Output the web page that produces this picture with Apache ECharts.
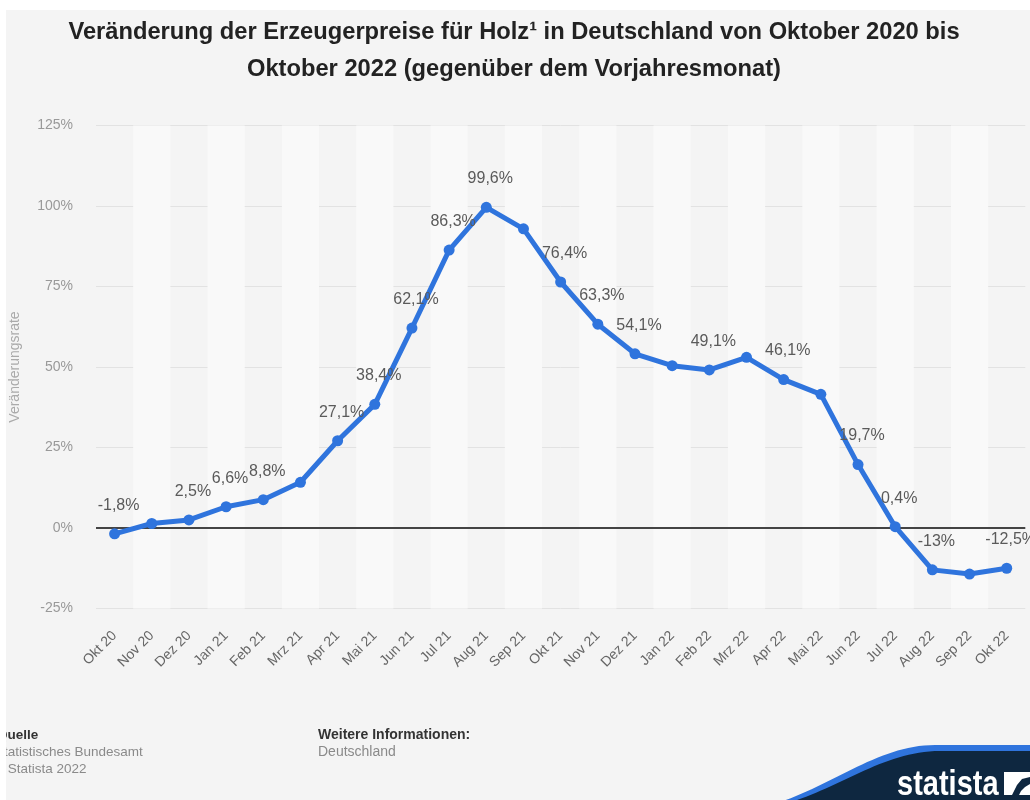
<!DOCTYPE html>
<html>
<head>
<meta charset="utf-8">
<script src="https://cdn.jsdelivr.net/npm/echarts@6/dist/echarts.min.js"></script>
<style>
html,body{margin:0;padding:0;background:#fff;}
#chart{width:1030px;height:800px;}
</style>
</head>
<body>
<div id="chart"></div>
<script>
var categories = ['Okt 20','Nov 20','Dez 20','Jan 21','Feb 21','Mrz 21','Apr 21','Mai 21','Jun 21','Jul 21','Aug 21','Sep 21','Okt 21','Nov 21','Dez 21','Jan 22','Feb 22','Mrz 22','Apr 22','Mai 22','Jun 22','Jul 22','Aug 22','Sep 22','Okt 22'];
var values = [-1.8, 1.4, 2.5, 6.6, 8.8, 14.2, 27.1, 38.4, 62.1, 86.3, 99.6, 92.9, 76.4, 63.3, 54.1, 50.4, 49.1, 53.0, 46.1, 41.5, 19.7, 0.4, -13, -14.3, -12.5];
var labeled = [true,false,true,true,true,false,true,true,true,true,true,false,true,true,true,false,true,false,true,false,true,true,true,false,true];
var yMin = -25, yMax = 125, yStep = 25;
var titleText = 'Veränderung der Erzeugerpreise für Holz¹ in Deutschland von Oktober 2020 bis\nOktober 2022 (gegenüber dem Vorjahresmonat)';
var yAxisName = 'Veränderungsrate';

var FONT = '"Liberation Sans", Arial, sans-serif';
function fmt(v){ return String(v).replace('.', ',') + '%'; }

// logo outline: cubic bezier sampled into polygon points (decoration only)
function swoosh(x0, y0, c1x, c1y, c2x, c2y, x1, y1, right, bottom){
  var pts = [];
  for (var i = 0; i <= 30; i++) {
    var t = i / 30, u = 1 - t;
    pts.push([u*u*u*x0 + 3*u*u*t*c1x + 3*u*t*t*c2x + t*t*t*x1,
              u*u*u*y0 + 3*u*u*t*c1y + 3*u*t*t*c2y + t*t*t*y1]);
  }
  pts.push([right, y1]); pts.push([right, bottom]); pts.push([x0, bottom]);
  return pts;
}

var chart = echarts.init(document.getElementById('chart'), null, {renderer:'canvas'});
var option = {
  backgroundColor: '#f4f4f4',
  animation: false,
  title: {
    text: titleText,
    left: 514,
    top: 14,
    padding: 0,
    textAlign: 'center',
    textStyle: {fontFamily: FONT, fontSize: 23.7, fontWeight: 'bold', color: '#222', lineHeight: 37}
  },
  grid: {left: 94.7, right: 4.7, top: 125.5, bottom: 191.5, containLabel: false},
  xAxis: {
    type: 'category',
    data: categories,
    boundaryGap: true,
    axisLine: {show: false},
    axisTick: {show: false},
    axisLabel: {rotate: 45, margin: 25, color: '#666', fontFamily: FONT, fontSize: 14, interval: 0},
    splitLine: {show: false},
    splitArea: {show: true, interval: 0, areaStyle: {color: ['rgba(255,255,255,0)', '#f9f9f9']}}
  },
  yAxis: {
    type: 'value',
    min: yMin, max: yMax, interval: yStep,
    name: yAxisName,
    nameLocation: 'middle',
    nameGap: 74,
    nameTextStyle: {color: '#aaa', fontFamily: FONT, fontSize: 14},
    axisLine: {show: false},
    axisTick: {show: false},
    axisLabel: {formatter: function(v){return v + '%';}, color: '#999', fontFamily: FONT, fontSize: 14, margin: 23},
    splitLine: {show: true, lineStyle: {color: '#e2e2e2', width: 1}}
  },
  series: [{
    type: 'line',
    data: values.map(function(v, i){ return {value: v, label: {show: labeled[i]}}; }),
    lineStyle: {color: '#2f74dd', width: 5},
    itemStyle: {color: '#2f74dd'},
    symbol: 'circle',
    symbolSize: 11,
    z: 5,
    label: {
      position: 'top', distance: 15, offset: [4, 0],
      formatter: function(p){ return fmt(p.value); },
      color: '#5a5a5a', fontFamily: FONT, fontSize: 16
    },
    markLine: {
      silent: true, symbol: 'none', animation: false,
      label: {show: false},
      lineStyle: {color: '#444', width: 2, type: 'solid'},
      data: [{yAxis: 0}],
      z: 3
    }
  }],
  graphic: [
    {type: 'text', x: -3, y: 728, style: {text: 'Quelle', font: 'bold 13.5px ' + FONT, fill: '#333'}},
    {type: 'text', x: -5, y: 745, style: {text: 'Statistisches Bundesamt', font: '13.5px ' + FONT, fill: '#8a8a8a'}},
    {type: 'text', x: -6, y: 762, style: {text: '© Statista 2022', font: '13.5px ' + FONT, fill: '#8a8a8a'}},
    {type: 'text', x: 318, y: 728, style: {text: 'Weitere Informationen:', font: 'bold 14px ' + FONT, fill: '#333'}},
    {type: 'text', x: 318, y: 745, style: {text: 'Deutschland', font: '14px ' + FONT, fill: '#8a8a8a'}},
    {type: 'rect', z: 100, silent: true, shape: {x: 0, y: 0, width: 1030, height: 10}, style: {fill: '#ffffff'}},
    {type: 'rect', z: 100, silent: true, shape: {x: 0, y: 0, width: 6, height: 800}, style: {fill: '#ffffff'}},
    {type: 'polygon', silent: true, shape: {points: swoosh(780, 802, 834, 784, 880, 745, 935, 745, 1032, 802)}, style: {fill: '#2f74dd'}},
    {type: 'polygon', silent: true, shape: {points: swoosh(791, 802, 842, 786, 886, 751, 940, 751, 1032, 802)}, style: {fill: '#0e2740'}},
    {type: 'text', x: 897, y: 803, scaleX: 1.0, scaleY: 1.2, style: {text: 'statista', font: 'bold 29px ' + FONT, fill: '#ffffff', verticalAlign: 'bottom'}},
    {type: 'rect', silent: true, shape: {x: 1004, y: 772, width: 26, height: 23}, style: {fill: '#ffffff'}},
    {type: 'polygon', silent: true, shape: {points: [[1004,795],[1012,795],[1017,785],[1022,779],[1030,777],[1030,784],[1025,787],[1021,791],[1019,795]]}, style: {fill: '#0e2740'}}
  ]
};
chart.setOption(option);
</script>
</body>
</html>
